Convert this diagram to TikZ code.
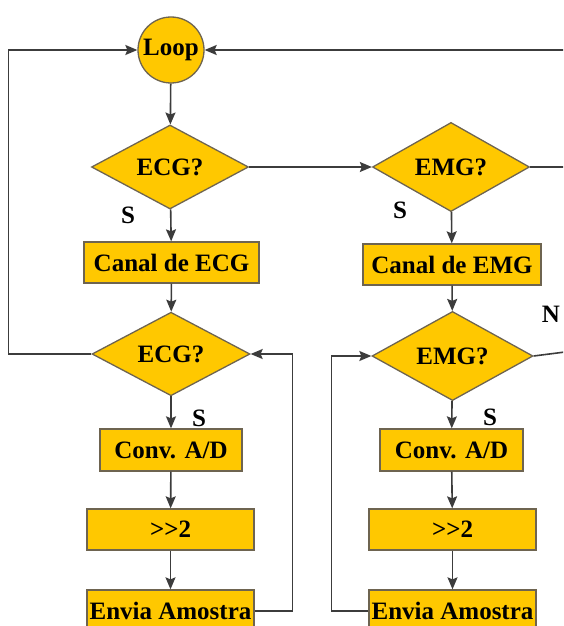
\documentclass[tikz,border=0pt]{standalone}
\usepackage{fontspec}
\setmainfont{Liberation Serif}
\usetikzlibrary{shapes.geometric,arrows.meta}

\definecolor{cffc800}{RGB}{255,200,0}
\definecolor{c6e6450}{RGB}{110,100,80}
\definecolor{c505050}{RGB}{60,60,60}

\tikzset{
  block/.style={draw=c6e6450, fill=cffc800, line width=1.3pt, inner sep=0pt,
    font=\fontsize{25}{28}\selectfont\bfseries},
  decision/.style={block, diamond, minimum width=157pt, minimum height=84pt},
  process/.style={block, rectangle, minimum height=41pt},
  terminal/.style={block, circle, minimum size=66pt},
  flow/.style={draw=c505050, line width=1.6pt},
  arrow/.style={flow, -{Stealth[length=12pt,width=10pt,inset=2pt]}},
  answer/.style={font=\fontsize{25}{28}\selectfont\bfseries, inner sep=0pt},
}

\begin{document}
\begin{tikzpicture}[x=1pt, y=1pt, yscale=-1]
\useasboundingbox (0,0) rectangle (563,626);
\clip (0,0) rectangle (563,626);

% loop start
\node[terminal] (loop) at (171,50) {Loop};

% ECG branch
\node[decision] (ecgA) at (170,167) {ECG?};
\node[process, minimum width=175pt] (canalEcg) at (171.5,262.5) {Canal de ECG};
\node[decision, minimum width=158pt, minimum height=80pt] (ecgB) at (171,354) {ECG?};
\node[process, minimum width=142pt, minimum height=42pt] (convEcg) at (171,450) {Conv. A/D};
\node[process, minimum width=167pt] (shiftEcg) at (170.5,529.5) {>{}>2};
\node[process, minimum width=167pt, minimum height=42pt] (enviaEcg) at (170.5,611) {Envia Amostra};

% EMG branch
\node[decision] (emgA) at (451,167) {EMG?};
\node[process, minimum width=178pt] (canalEmg) at (452,264.5) {Canal de EMG};
\node[decision, minimum width=161pt, minimum height=80pt] (emgB) at (452.5,356) {EMG?};
\node[process, minimum width=143pt, minimum height=42pt] (convEmg) at (451.5,450) {Conv. A/D};
\node[process, minimum width=167pt] (shiftEmg) at (452.5,529.5) {>{}>2};
\node[process, minimum width=167pt, minimum height=42pt] (enviaEmg) at (452.5,611) {Envia Amostra};

% answers
\node[answer] (sEcgA) at (128,215) {S};
\node[answer] (sEmgA) at (400,210) {S};
\node[answer] (sEcgB) at (199,418) {S};
\node[answer] (sEmgB) at (490,417) {S};
\node[answer] (nEmgB) at (551,314) {N};

% exits to the right
\coordinate (emgOut) at (620,167);
\coordinate (emgBOut) at (620,345);
\coordinate (loopIn) at (620,50);

% ECG connectors
\draw[arrow] (loop) -- (ecgA);
\draw[arrow] (ecgA) -- (canalEcg);
\draw[arrow] (canalEcg) -- (ecgB);
\draw[arrow] (ecgB) -- (convEcg);
\draw[arrow] (convEcg) -- (shiftEcg);
\draw[arrow] (shiftEcg) -- (enviaEcg);
\draw[arrow] (enviaEcg.east) -- ++(38,0) |- (ecgB.east);
\draw[arrow] (ecgB.west) -- ++(-83,0) |- (loop.west);

% EMG connectors
\draw[arrow] (ecgA.east) -- (emgA.west);
\draw[arrow] (emgA) -- (canalEmg);
\draw[arrow] (canalEmg) -- (emgB);
\draw[arrow] (emgB) -- (convEmg);
\draw[arrow] (convEmg) -- (shiftEmg);
\draw[arrow] (shiftEmg) -- (enviaEmg);
\draw[arrow] (enviaEmg.west) -- ++(-37,0) |- (emgB.west);
\draw[flow] (emgA.east) -- (emgOut);
\draw[flow] (emgB.east) -- (emgBOut);
\draw[arrow] (loopIn) -- (loop.east);

\end{tikzpicture}
\end{document}
